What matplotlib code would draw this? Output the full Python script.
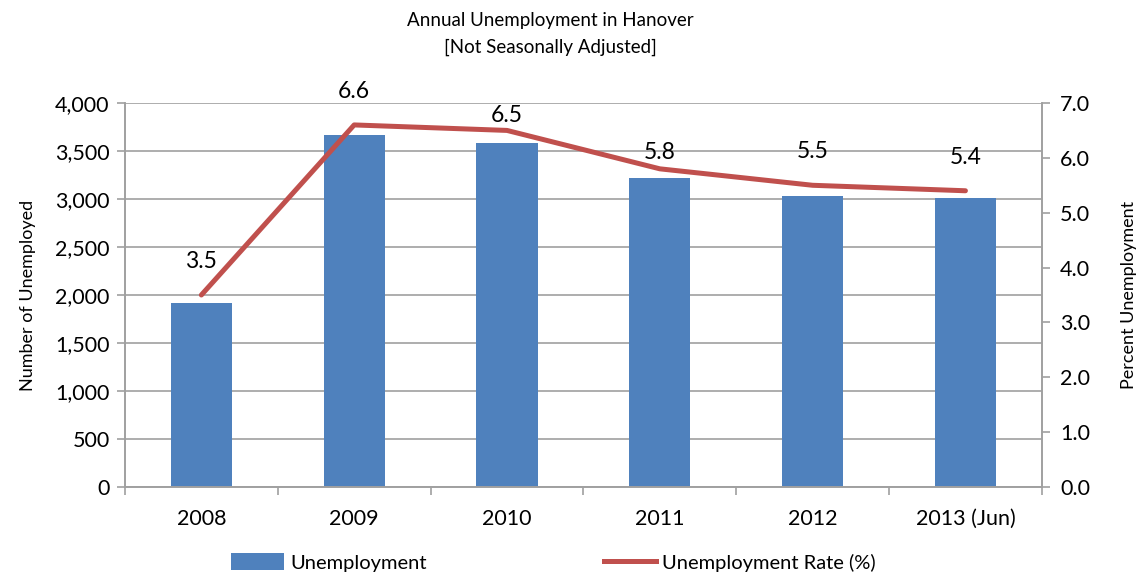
import matplotlib
matplotlib.use('Agg')
import matplotlib.pyplot as plt
from matplotlib.ticker import FuncFormatter, FixedLocator
from matplotlib.lines import Line2D
from matplotlib.patches import Patch

# Annual figures for Hanover
years = ["2008", "2009", "2010", "2011", "2012", "2013 (Jun)"]
unemployed = [1920, 3670, 3580, 3222, 3031, 3014]
rate = [3.5, 6.6, 6.5, 5.8, 5.5, 5.4]

# label offsets above each point (points)
label_dy = [24, 24, 11, 12, 24, 24]

plt.rcParams['font.family'] = ['Lato', 'DejaVu Sans']

bar_color = '#4F81BD'
line_color = '#C0504D'
grid_color = '#A0A0A0'

fig = plt.figure(figsize=(11.39, 5.77), dpi=100)
ax = fig.add_axes([0.1097, 0.156, 0.805, 0.6655])
ax2 = ax.twinx()

x = list(range(len(years)))
ax.bar(x, unemployed, width=0.4, color=bar_color, zorder=2)
ax.set_xlim(-0.5, len(years) - 0.5)
ax.set_ylim(0, 4000)
ax.set_yticks(range(0, 4001, 500))
ax.yaxis.set_major_formatter(FuncFormatter(lambda v, p: f"{int(v):,}"))
ax.grid(axis='y', color=grid_color, linewidth=1.2, zorder=0)
ax.set_axisbelow(True)

# category ticks between the bars
ax.set_xticks(x)
ax.set_xticklabels(years, fontsize=15.5)
ax.xaxis.set_minor_locator(FixedLocator([i - 0.5 for i in range(len(years) + 1)]))
ax.tick_params(axis='x', which='major', length=0, pad=16)
ax.tick_params(axis='x', which='minor', length=6, color=grid_color, width=1.2)
ax.tick_params(axis='y', length=6, color=grid_color, width=1.2, labelsize=15.5, pad=5)
ax.set_ylabel("Number of Unemployed", fontsize=13, labelpad=14)

ax2.plot(x, rate, color=line_color, linewidth=3.6, solid_capstyle='round', zorder=3)
ax2.set_ylim(0, 7)
ax2.set_yticks(range(0, 8))
ax2.yaxis.set_major_formatter(FuncFormatter(lambda v, p: f"{v:.1f}"))
ax2.tick_params(axis='y', length=6, color=grid_color, width=1.2, labelsize=15.5, pad=7)
ax2.set_ylabel("Percent Unemployment", fontsize=13, labelpad=22)

for xi, r, dy in zip(x, rate, label_dy):
    ax2.annotate(f"{r:.1f}", (xi, r), xytext=(0, dy), textcoords='offset points',
                 ha='center', va='center', fontsize=16.5)

for a in (ax, ax2):
    a.spines['top'].set_visible(False)
    for s in ('left', 'right', 'bottom'):
        a.spines[s].set_color(grid_color)
        a.spines[s].set_linewidth(1.2)

fig.text(0.483, 0.965, "Annual Unemployment in Hanover", ha='center', va='center', fontsize=13.5)
fig.text(0.483, 0.918, "[Not Seasonally Adjusted]", ha='center', va='center', fontsize=13.5)

handles = [Patch(facecolor=bar_color), Line2D([0], [0], color=line_color, linewidth=3.6)]
fig.legend(handles, ["Unemployment", "Unemployment Rate (%)"], loc='center',
           bbox_to_anchor=(0.486, 0.025), ncol=2, frameon=False, fontsize=14.5,
           handlelength=2.6, handleheight=0.9, handletextpad=0.3, columnspacing=8.8)

fig.savefig("out.png", dpi=100)
